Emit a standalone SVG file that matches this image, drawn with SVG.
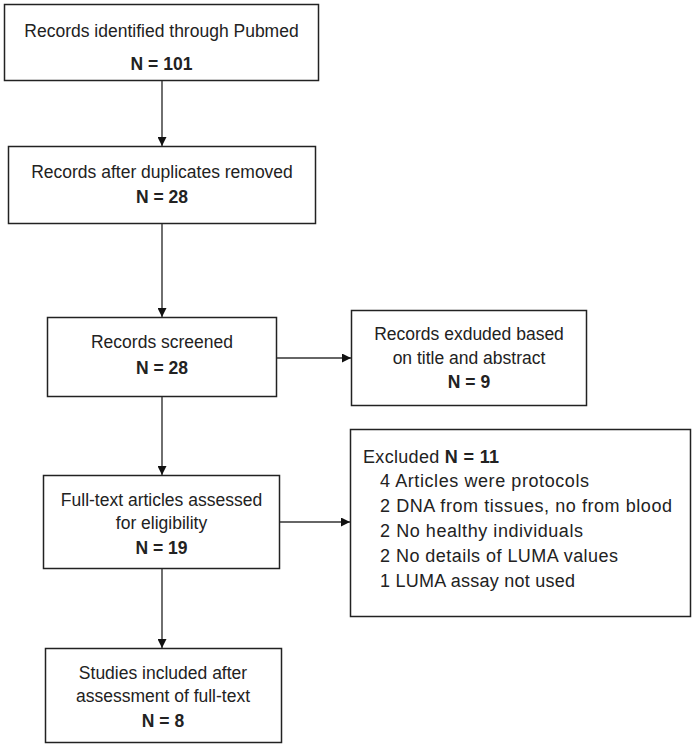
<svg xmlns="http://www.w3.org/2000/svg" width="696" height="748" viewBox="0 0 696 748">
<defs>
<marker id="arr" viewBox="0 0 10 10" refX="10" refY="5" markerWidth="9" markerHeight="9" markerUnits="userSpaceOnUse" orient="auto">
<path d="M0,0 L10,5 L0,10 Z" fill="#111"/>
</marker>
</defs>
<style>
rect{fill:#fff;stroke:#222;stroke-width:1.5}
text{font-family:"Liberation Sans",Arial,sans-serif;font-size:17.5px;fill:#222}
.c{text-anchor:middle}
.b{font-weight:bold}
.l{font-size:18px}
.conn line{stroke:#333;stroke-width:1.4;marker-end:url(#arr)}
</style>
<rect width="696" height="748" fill="#fff" style="stroke:none"/>
<g id="n1"><rect x="4.5" y="4.5" width="314" height="76"/>
<text class="c" x="161.5" y="37">Records identified through Pubmed</text>
<text class="c b" x="161.5" y="70">N = 101</text></g>
<g id="n2"><rect x="8.5" y="146.5" width="307" height="77"/>
<text class="c" x="162" y="178">Records after duplicates removed</text>
<text class="c b" x="162" y="203">N = 28</text></g>
<g id="n3"><rect x="47.5" y="317.5" width="229" height="79"/>
<text class="c" x="162" y="348">Records screened</text>
<text class="c b" x="162" y="374">N = 28</text></g>
<g id="n4"><rect x="351.5" y="310.5" width="235" height="95"/>
<text class="c" x="469" y="340">Records exduded based</text>
<text class="c" x="469" y="364">on title and abstract</text>
<text class="c b" x="469" y="388">N = 9</text></g>
<g id="n5"><rect x="43.5" y="475.5" width="236" height="93"/>
<text class="c" x="161.5" y="506">Full-text articles assessed</text>
<text class="c" x="161.5" y="529">for eligibility</text>
<text class="c b" x="161.5" y="554">N = 19</text></g>
<g id="n6"><rect x="350.5" y="429.5" width="340" height="187"/>
<text class="l" x="363" y="463" textLength="136">Excluded <tspan class="b">N = 11</tspan></text>
<text class="l" x="380" y="487" textLength="209">4 Articles were protocols</text>
<text class="l" x="380" y="512" textLength="292">2 DNA from tissues, no from blood</text>
<text class="l" x="380" y="537" textLength="203">2 No healthy individuals</text>
<text class="l" x="380" y="562" textLength="238">2 No details of LUMA values</text>
<text class="l" x="380" y="587" textLength="195">1 LUMA assay not used</text></g>
<g id="n7"><rect x="45.5" y="648.5" width="236" height="94"/>
<text class="c" x="163" y="679">Studies included after</text>
<text class="c" x="163" y="702">assessment of full-text</text>
<text class="c b" x="163" y="727">N = 8</text></g>
<g id="connectors" class="conn">
<line x1="162" y1="81" x2="162" y2="146"/>
<line x1="162" y1="224" x2="162" y2="317"/>
<line x1="162" y1="397" x2="162" y2="475"/>
<line x1="162" y1="569" x2="162" y2="648"/>
<line x1="277" y1="358" x2="351" y2="358"/>
<line x1="280" y1="522" x2="350" y2="522"/>
</g>
</svg>
